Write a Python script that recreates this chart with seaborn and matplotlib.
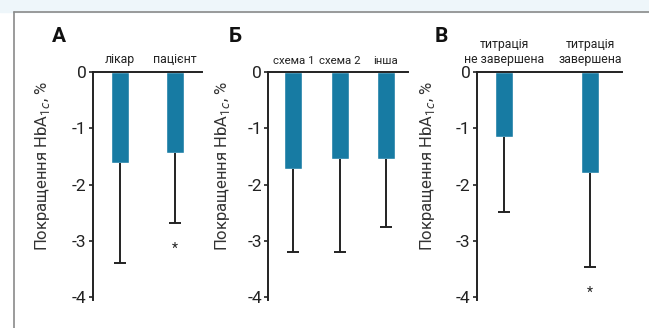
import matplotlib
matplotlib.use('Agg')
import matplotlib.pyplot as plt
import seaborn as sns
from matplotlib.lines import Line2D
from matplotlib.patches import Rectangle

# panel A
cats_a = ['лікар', 'пацієнт']
mean_a = [-1.62, -1.44]
err_a = [1.77, 1.25]
star_a = [None, -3.15]

# panel Б
cats_b = ['схема 1', 'схема 2', 'інша']
mean_b = [-1.72, -1.54, -1.54]
err_b = [1.48, 1.66, 1.22]

# panel В
cats_c = ['титрація\nне завершена', 'титрація\nзавершена']
mean_c = [-1.16, -1.79]
err_c = [1.33, 1.68]
star_c = [None, -3.93]

yticks = [0, -1, -2, -3, -4]
ylab = 'Покращення HbA$_{1c}$, %'

sns.set_style('white')
plt.rcParams['font.family'] = ['Roboto', 'DejaVu Sans']
plt.rcParams['mathtext.fontset'] = 'custom'
plt.rcParams['mathtext.rm'] = 'Roboto'

bar_col = '#177ba3'
W, H = 649, 328
fig = plt.figure(figsize=(W / 100, H / 100), dpi=100)

# background frame
fig.add_artist(Rectangle((0, 1 - 12 / H), 1, 12 / H, transform=fig.transFigure,
                         color='#eef6fa', zorder=0))
fig.add_artist(Line2D([14 / W, 1], [1 - 12 / H] * 2, transform=fig.transFigure,
                      color='#8a8a8a', lw=1.2))
fig.add_artist(Line2D([14 / W] * 2, [0, 1 - 12 / H], transform=fig.transFigure,
                      color='#8a8a8a', lw=1.2))

top_px, bot_px = 72, 300


def panel(left, right, cats, means, errs, width, xlim, letter, letter_x, lab_x,
          stars=None, catsize=8.8):
    ax = fig.add_axes([left / W, 1 - bot_px / H, (right - left) / W, (bot_px - top_px) / H])
    sns.barplot(x=cats, y=means, color=bar_col, width=width, saturation=1, ax=ax)
    xs = list(range(len(cats)))
    eb = ax.errorbar(xs, means, yerr=[errs, [0] * len(errs)], fmt='none',
                     ecolor='#222222', elinewidth=1.4, capsize=4.5, capthick=1.4)
    # keep only the lower caps
    for cl in eb[1]:
        if list(cl.get_ydata()) == list(means):
            cl.set_visible(False)
    if stars:
        for x, s in zip(xs, stars):
            if s is not None:
                ax.text(x, s, '*', ha='center', va='center', fontsize=10, color='#222222')
    ax.set_ylim(-4.05, 0)
    ax.set_xlim(*xlim)
    ax.set_yticks(yticks)
    ax.set_yticklabels(['0', '-1', '-2', '-3', '-4'])
    ax.xaxis.tick_top()
    ax.tick_params(axis='x', length=0, pad=4, labelsize=catsize, colors='#222222')
    ax.tick_params(axis='y', length=3, width=1.2, direction='out', pad=1.5,
                   labelsize=12.5, colors='#222222', left=True)
    for sp in ['right', 'bottom']:
        ax.spines[sp].set_visible(False)
    for sp in ['left', 'top']:
        ax.spines[sp].set_color('#222222')
        ax.spines[sp].set_linewidth(1.4)
    ax.set_ylabel(ylab, fontsize=12, color='#333333')
    ax.yaxis.set_label_coords(-(lab_x) / (right - left), 0.59)
    ax.set_xlabel('')
    fig.text(letter_x / W, 1 - 37 / H, letter, fontsize=15, fontweight='bold',
             ha='center', va='center', color='#111111')
    return ax


panel(93, 202, cats_a, mean_a, err_a, 0.33, (-0.49, 1.49), 'А', 59, 41, star_a)
panel(268, 408, cats_b, mean_b, err_b, 0.39, (-0.55, 2.48), 'Б', 235, 36, catsize=8.2)
panel(477, 622, cats_c, mean_c, err_c, 0.21, (-0.314, 1.37), 'В', 441, 40, star_c)

fig.savefig('out.png', dpi=100)
